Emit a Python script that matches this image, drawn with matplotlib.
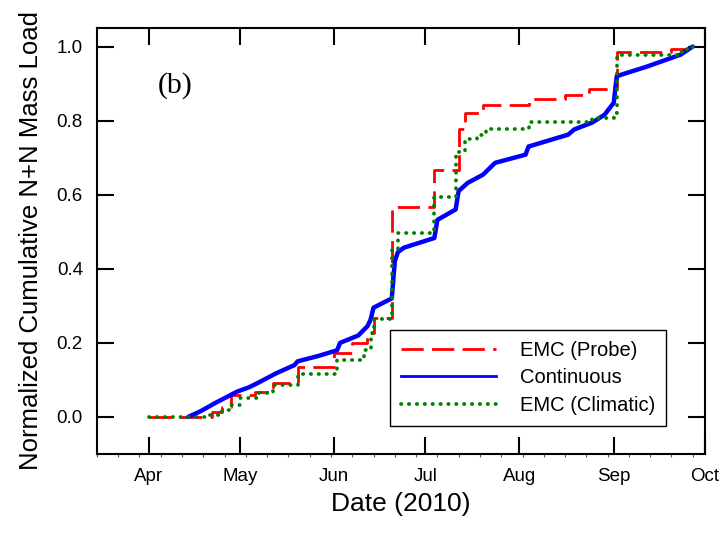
import pandas as pd
import matplotlib
matplotlib.use('Agg')
import matplotlib.pyplot as plt
import matplotlib.dates as mdates
from matplotlib.lines import Line2D

plt.rcParams['font.family'] = ['Liberation Sans', 'DejaVu Sans']

# EMC (Probe) - cumulativa escalonada
probe_dates = ['2010-04-01', '2010-04-22', '2010-04-25', '2010-04-28', '2010-05-06',
               '2010-05-12', '2010-05-20', '2010-06-01', '2010-06-07', '2010-06-12',
               '2010-06-14', '2010-06-20', '2010-07-04', '2010-07-12', '2010-07-14',
               '2010-07-20', '2010-08-04', '2010-08-16', '2010-08-24', '2010-09-01',
               '2010-09-02', '2010-09-20', '2010-09-26', '2010-09-27']
probe_vals = [0.0, 0.013, 0.027, 0.06, 0.068,
              0.092, 0.135, 0.173, 0.2, 0.227,
              0.267, 0.567, 0.667, 0.776, 0.82,
              0.843, 0.857, 0.87, 0.886, 0.892,
              0.986, 0.992, 1.0, 1.0]

# Continuous
cont_dates = ['2010-04-14', '2010-04-18', '2010-04-23', '2010-04-27', '2010-04-30',
              '2010-05-04', '2010-05-07', '2010-05-13', '2010-05-19', '2010-05-20',
              '2010-05-27', '2010-06-02', '2010-06-03', '2010-06-09', '2010-06-12',
              '2010-06-13', '2010-06-14', '2010-06-20', '2010-06-21', '2010-06-22',
              '2010-06-24', '2010-07-04', '2010-07-05', '2010-07-11', '2010-07-12',
              '2010-07-15', '2010-07-20', '2010-07-24', '2010-08-03', '2010-08-04',
              '2010-08-17', '2010-08-19', '2010-08-25', '2010-08-29', '2010-09-01',
              '2010-09-02', '2010-09-12', '2010-09-23', '2010-09-27']
cont_vals = [0.0, 0.015, 0.038, 0.055, 0.068,
             0.08, 0.092, 0.118, 0.14, 0.15,
             0.165, 0.18, 0.2, 0.22, 0.245,
             0.262, 0.295, 0.32, 0.42, 0.445,
             0.457, 0.483, 0.532, 0.56, 0.61,
             0.632, 0.654, 0.686, 0.708, 0.73,
             0.762, 0.776, 0.795, 0.816, 0.848,
             0.92, 0.946, 0.978, 1.0]

# EMC (Climatic)
clim_dates = ['2010-04-01', '2010-04-21', '2010-04-25', '2010-04-28', '2010-05-01',
              '2010-05-07', '2010-05-12', '2010-05-20', '2010-06-02', '2010-06-11',
              '2010-06-13', '2010-06-14', '2010-06-20', '2010-06-22', '2010-07-04',
              '2010-07-11', '2010-07-14', '2010-07-18', '2010-07-21', '2010-08-04',
              '2010-08-25', '2010-09-01', '2010-09-02', '2010-09-22', '2010-09-25',
              '2010-09-27']
clim_vals = [0.0, 0.005, 0.02, 0.032, 0.05,
             0.065, 0.086, 0.115, 0.154, 0.18,
             0.227, 0.265, 0.45, 0.497, 0.595,
             0.716, 0.75, 0.762, 0.776, 0.795,
             0.808, 0.82, 0.978, 0.986, 1.0,
             1.0]

labels = ['EMC (Probe)', 'Continuous', 'EMC (Climatic)']

fig = plt.figure(figsize=(7.23, 5.35), dpi=100)
ax = fig.add_axes([0.134, 0.1514, 0.841, 0.7963])

red_style = dict(color='#ff0000', lw=2.0, linestyle=(0, (8, 3)))
blue_style = dict(color='#0000ff', lw=3.2, linestyle='-')
green_style = dict(color='#008000', lw=2.7, linestyle=(0, (0.1, 2.0)),
                   dash_capstyle='round')

ax.plot(pd.to_datetime(probe_dates), probe_vals, drawstyle='steps-post', **red_style)
ax.plot(pd.to_datetime(cont_dates), cont_vals, solid_capstyle='round', **blue_style)
ax.plot(pd.to_datetime(clim_dates), clim_vals, drawstyle='steps-post', **green_style)

ax.set_xlim(pd.Timestamp('2010-03-15'), pd.Timestamp('2010-10-01'))
ax.set_ylim(-0.1, 1.05)
ax.set_yticks([0.0, 0.2, 0.4, 0.6, 0.8, 1.0])
ax.yaxis.set_major_formatter(matplotlib.ticker.FormatStrFormatter('%.1f'))
ax.xaxis.set_major_locator(mdates.MonthLocator())
ax.xaxis.set_major_formatter(mdates.DateFormatter('%b'))
ax.xaxis.set_minor_locator(mdates.WeekdayLocator(byweekday=mdates.MO))

ax.tick_params(which='major', direction='in', length=12, width=1.5,
               top=True, right=True, labelsize=13.5, pad=10)
ax.tick_params(axis='x', which='minor', direction='out', length=2.5, width=0.8,
               color='#555555', top=False)
for s in ax.spines.values():
    s.set_linewidth(1.5)

ax.set_xlabel('Date (2010)', fontsize=19, labelpad=5)
ax.set_ylabel('Normalized Cumulative N+N Mass Load', fontsize=18.5, labelpad=10)

ax.text(0.1, 0.864, '(b)', transform=ax.transAxes, fontsize=21.5,
        family=['Liberation Serif', 'DejaVu Serif'], ha='left', va='center')

handles = [Line2D([], [], color='#ff0000', lw=2.0, linestyle=(0, (8, 3))),
           Line2D([], [], color='#0000ff', lw=2.0),
           Line2D([], [], color='#008000', lw=2.7, linestyle=(0, (0.1, 2.0)),
                  dash_capstyle='round')]
leg = ax.legend(handles, labels, loc='lower left', bbox_to_anchor=(0.482, 0.066),
                borderaxespad=0, fontsize=14.5, handlelength=4.7, handletextpad=1.2,
                labelspacing=0.42, borderpad=0.55, fancybox=False, framealpha=1,
                edgecolor='black')
leg.get_frame().set_linewidth(1.0)

fig.savefig('out.png', dpi=100)
